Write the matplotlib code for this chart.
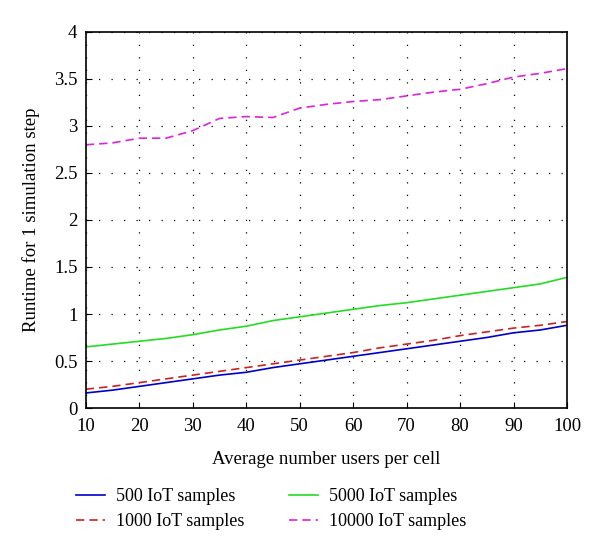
import matplotlib.pyplot as plt

plt.rcParams['font.family'] = ['Liberation Serif', 'DejaVu Serif']

users = [10, 15, 20, 25, 30, 35, 40, 45, 50, 55, 60, 65, 70, 75, 80, 85, 90, 95, 100]
rt_500 = [0.16, 0.19, 0.23, 0.27, 0.31, 0.35, 0.38, 0.43, 0.47, 0.51, 0.55, 0.59, 0.63, 0.67, 0.71, 0.75, 0.80, 0.83, 0.88]
rt_1000 = [0.20, 0.23, 0.27, 0.31, 0.35, 0.39, 0.43, 0.47, 0.51, 0.55, 0.59, 0.64, 0.68, 0.72, 0.77, 0.81, 0.85, 0.88, 0.92]
rt_5000 = [0.65, 0.68, 0.71, 0.74, 0.78, 0.83, 0.87, 0.93, 0.97, 1.01, 1.05, 1.09, 1.12, 1.16, 1.20, 1.24, 1.28, 1.32, 1.39]
rt_10000 = [2.80, 2.82, 2.87, 2.87, 2.95, 3.08, 3.10, 3.09, 3.19, 3.23, 3.26, 3.28, 3.32, 3.36, 3.39, 3.45, 3.52, 3.56, 3.61]

fig = plt.figure(figsize=(6, 5.51), dpi=100)
ax = fig.add_axes([0.143, 0.2595, 0.802, 0.6825])

ax.plot(users, rt_500, color='#0000cc', lw=1.2, label='500 IoT samples')
ax.plot(users, rt_1000, color='#cc2222', lw=1.2, ls=(0, (5, 3)), label='1000 IoT samples')
ax.plot(users, rt_5000, color='#22dd22', lw=1.2, label='5000 IoT samples')
ax.plot(users, rt_10000, color='#dd22dd', lw=1.2, ls=(0, (5, 3)), label='10000 IoT samples')

ax.set_xlim(10, 100)
ax.set_ylim(0, 4)
ax.set_xticks(range(10, 101, 10))
ax.set_yticks([0, 0.5, 1, 1.5, 2, 2.5, 3, 3.5, 4])
ax.set_yticklabels(['0', '0.5', '1', '1.5', '2', '2.5', '3', '3.5', '4'])
ax.tick_params(direction='in', labelsize=13.5, length=4, top=False, right=False)
ax.tick_params(axis='x', pad=7)
ax.tick_params(axis='y', pad=6)
ax.grid(True, color='black', ls=(0, (1, 9)), lw=0.9)
for s in ax.spines.values():
    s.set_linewidth(1.2)

ax.set_xlabel('Average number users per cell', fontsize=13.5, labelpad=12)
ax.set_ylabel('Runtime for 1 simulation step', fontsize=13.5, labelpad=10)

fig.legend(loc='lower left', bbox_to_anchor=(0.1, 0.008), ncol=2, frameon=False,
           fontsize=13, handlelength=1.6, columnspacing=2.5, handletextpad=0.6,
           labelspacing=0.45)

fig.savefig('out.png', dpi=100)
